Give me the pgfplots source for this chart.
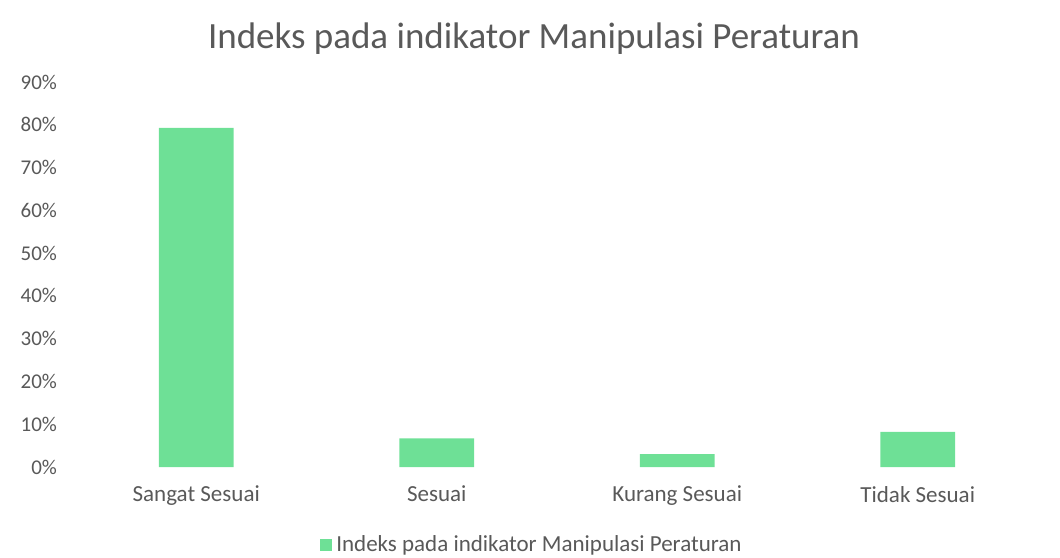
\documentclass[border=0pt]{standalone}
\usepackage{pgfplots}
\pgfplotsset{compat=1.18}
\usepackage{fontspec}
\setmainfont{Carlito}
\definecolor{bargreen}{RGB}{110,224,150}
\definecolor{txt}{RGB}{89,89,89}
\begin{document}
\begin{tikzpicture}
\useasboundingbox (0,0) rectangle (530pt,278.5pt);
\node[text=txt,font=\fontsize{18.5}{22}\selectfont] at (267pt,259pt) {Indeks pada indikator Manipulasi Peraturan};
\begin{axis}[
  at={(38pt,45pt)}, anchor=south west,
  scale only axis, width=481pt, height=192.5pt,
  ymin=0, ymax=90, xmin=-0.5, xmax=3.5,
  axis line style={draw=none}, tick style={draw=none},
  ytick={0,10,...,90},
  yticklabels={0\%,10\%,20\%,30\%,40\%,50\%,60\%,70\%,80\%,90\%},
  xtick={0,1,2,3},
  xticklabels={Sangat Sesuai,Sesuai,Kurang Sesuai,Tidak Sesuai},
  ticklabel style={text=txt},
  yticklabel style={xshift=-6pt,font=\fontsize{10.5}{12}\selectfont},
  xticklabel style={yshift=-6pt,font=\fontsize{11.5}{13}\selectfont},
  legend style={at={(0.475,-0.203)},anchor=center,draw=none,font=\fontsize{11.5}{13}\selectfont,text=txt,inner sep=1pt},
  legend image code/.code={\fill[bargreen] (0pt,-3pt) rectangle (6pt,3pt);},
]
\addplot[ybar, bar width=0.31, fill=bargreen, draw=none] coordinates {(0,79.3) (1,6.7) (2,3.0) (3,8.2)};
\addlegendentry{Indeks pada indikator Manipulasi Peraturan}
\end{axis}
\end{tikzpicture}
\end{document}
